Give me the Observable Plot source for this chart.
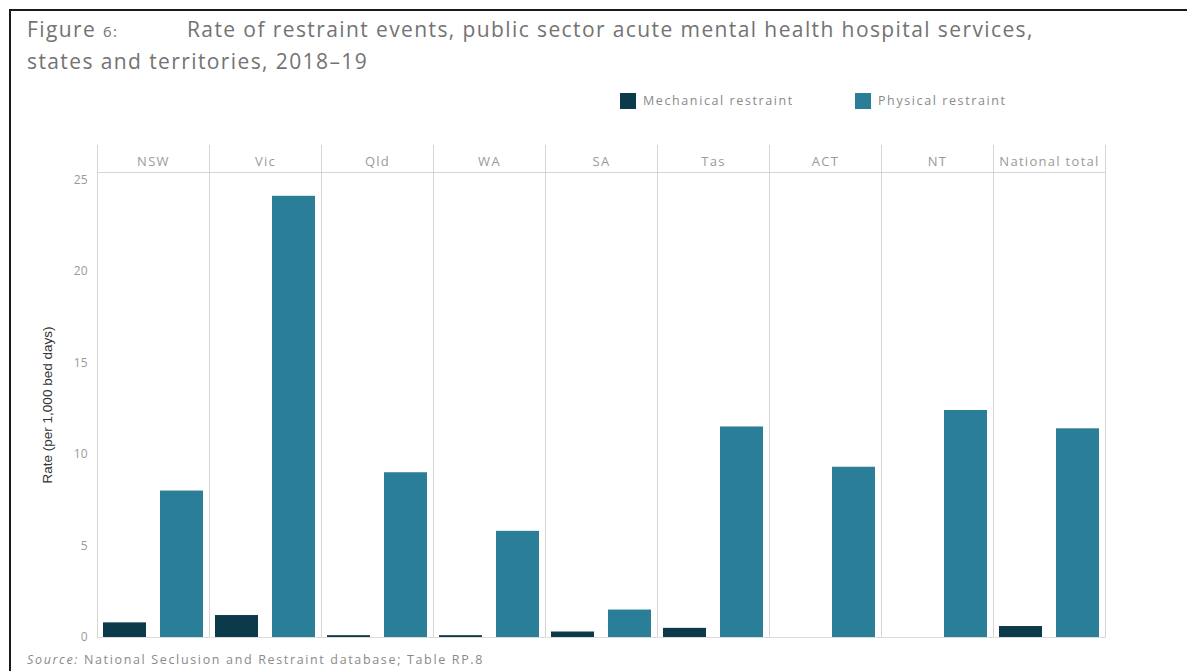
<!DOCTYPE html>
<html><head><meta charset="utf-8">
<script src="https://cdn.jsdelivr.net/npm/d3@7"></script>
<script src="https://cdn.jsdelivr.net/npm/@observablehq/plot@0.6"></script>
<style>
body{margin:0;background:#fff;font-family:"Open Sans",sans-serif;width:1187px;height:671px;overflow:hidden;position:relative;}
#border{position:absolute;left:9px;top:9px;width:1180px;height:670px;border-top:2px solid #1a1a1a;border-left:2px solid #1a1a1a;z-index:3;}
#chart{position:absolute;left:0;top:0;z-index:1;}
#chart g[aria-label="fx-axis tick label"] text{letter-spacing:1.3px;}
.t{position:absolute;color:#737373;font-size:21px;letter-spacing:1.4px;white-space:nowrap;z-index:2;}
#legend{position:absolute;top:92px;left:620px;z-index:2;font-size:12.5px;color:#8a8a8a;letter-spacing:1.6px;}
.sw{position:absolute;white-space:nowrap;display:flex;align-items:center;}
.sw i{display:inline-block;width:16px;height:16px;margin-right:7px;}
#source{position:absolute;left:27px;top:651px;font-size:12.5px;color:#8a8a8a;letter-spacing:1.65px;z-index:2;white-space:nowrap;}
</style></head>
<body>
<div id="border"></div>
<div class="t" style="left:27px;top:15px;">Figure <span style="font-size:15px">6:</span></div>
<div class="t" id="title1" style="left:187px;top:15px;"></div>
<div class="t" id="title2" style="left:27px;top:47px;"></div>
<div id="legend"></div>
<div id="chart"></div>
<div id="source"></div>
<script>
const titleLine1 = "Rate of restraint events, public sector acute mental health hospital services,";
const titleLine2 = "states and territories, 2018–19";
const states = ["NSW","Vic","Qld","WA","SA","Tas","ACT","NT","National total"];
const series = ["Mechanical restraint","Physical restraint"];
const mechanical = [0.8,1.2,0.1,0.1,0.3,0.5,0,0,0.6];
const physical = [8.0,24.1,9.0,5.8,1.5,11.5,9.3,12.4,11.4];
const yTicks = [0,5,10,15,20,25];
const colors = ["#0d3a4a","#2b7e98"];
const yLabel = "Rate (per 1,000 bed days)";

document.getElementById("title1").textContent = titleLine1;
document.getElementById("title2").textContent = titleLine2;
document.getElementById("source").innerHTML = "<i>Source:</i> National Seclusion and Restraint database; Table RP.8";
const legend = document.getElementById("legend");
const legendX = [0, 235];
series.forEach((s,i)=>{
  const d = document.createElement("div");
  d.className="sw"; d.style.left = legendX[i]+"px"; d.style.top="0px";
  d.innerHTML = `<i style="background:${colors[i]}"></i>${s}`;
  legend.appendChild(d);
});

const data = [];
states.forEach((st,i)=>{
  data.push({state:st, type:series[0], value:mechanical[i]});
  data.push({state:st, type:series[1], value:physical[i]});
});

const chart = Plot.plot({
  width:1187, height:671,
  marginTop:172, marginBottom:34, marginLeft:96, marginRight:81,
  style:{background:"transparent", fontFamily:"Open Sans, sans-serif", fontSize:"12px", color:"#9a9a9a"},
  fx:{domain:states, padding:0, label:null},
  x:{domain:series, paddingInner:0.25, paddingOuter:0.1, axis:null},
  y:{domain:[0,25.4], label:null},
  color:{domain:series, range:colors},
  marks:[
    Plot.frame({anchor:"left", stroke:"#d6d6d6", strokeOpacity:1, insetTop:-27}),
    Plot.frame({anchor:"right", stroke:"#d6d6d6", strokeOpacity:1, insetTop:-27}),
    Plot.frame({anchor:"top", stroke:"#d6d6d6", strokeOpacity:1}),
    Plot.frame({anchor:"bottom", stroke:"#dcdcdc", strokeOpacity:1}),
    Plot.barY(data,{fx:"state", x:"type", y:"value", fill:"type"}),
    Plot.axisFx({anchor:"top", tickSize:0, tickPadding:7, label:null, color:"#9a9a9a", fontSize:13}),
    Plot.axisY({ticks:yTicks, tickSize:0, tickPadding:10, label:null, color:"#9a9a9a", fontSize:12}),
    Plot.axisY({ticks:[], label:yLabel, labelAnchor:"center", labelOffset:55, labelArrow:false, color:"#333", fontFamily:"Liberation Sans, Arial, sans-serif", fontSize:13.5})
  ]
});
document.getElementById("chart").appendChild(chart);
</script>
</body></html>
